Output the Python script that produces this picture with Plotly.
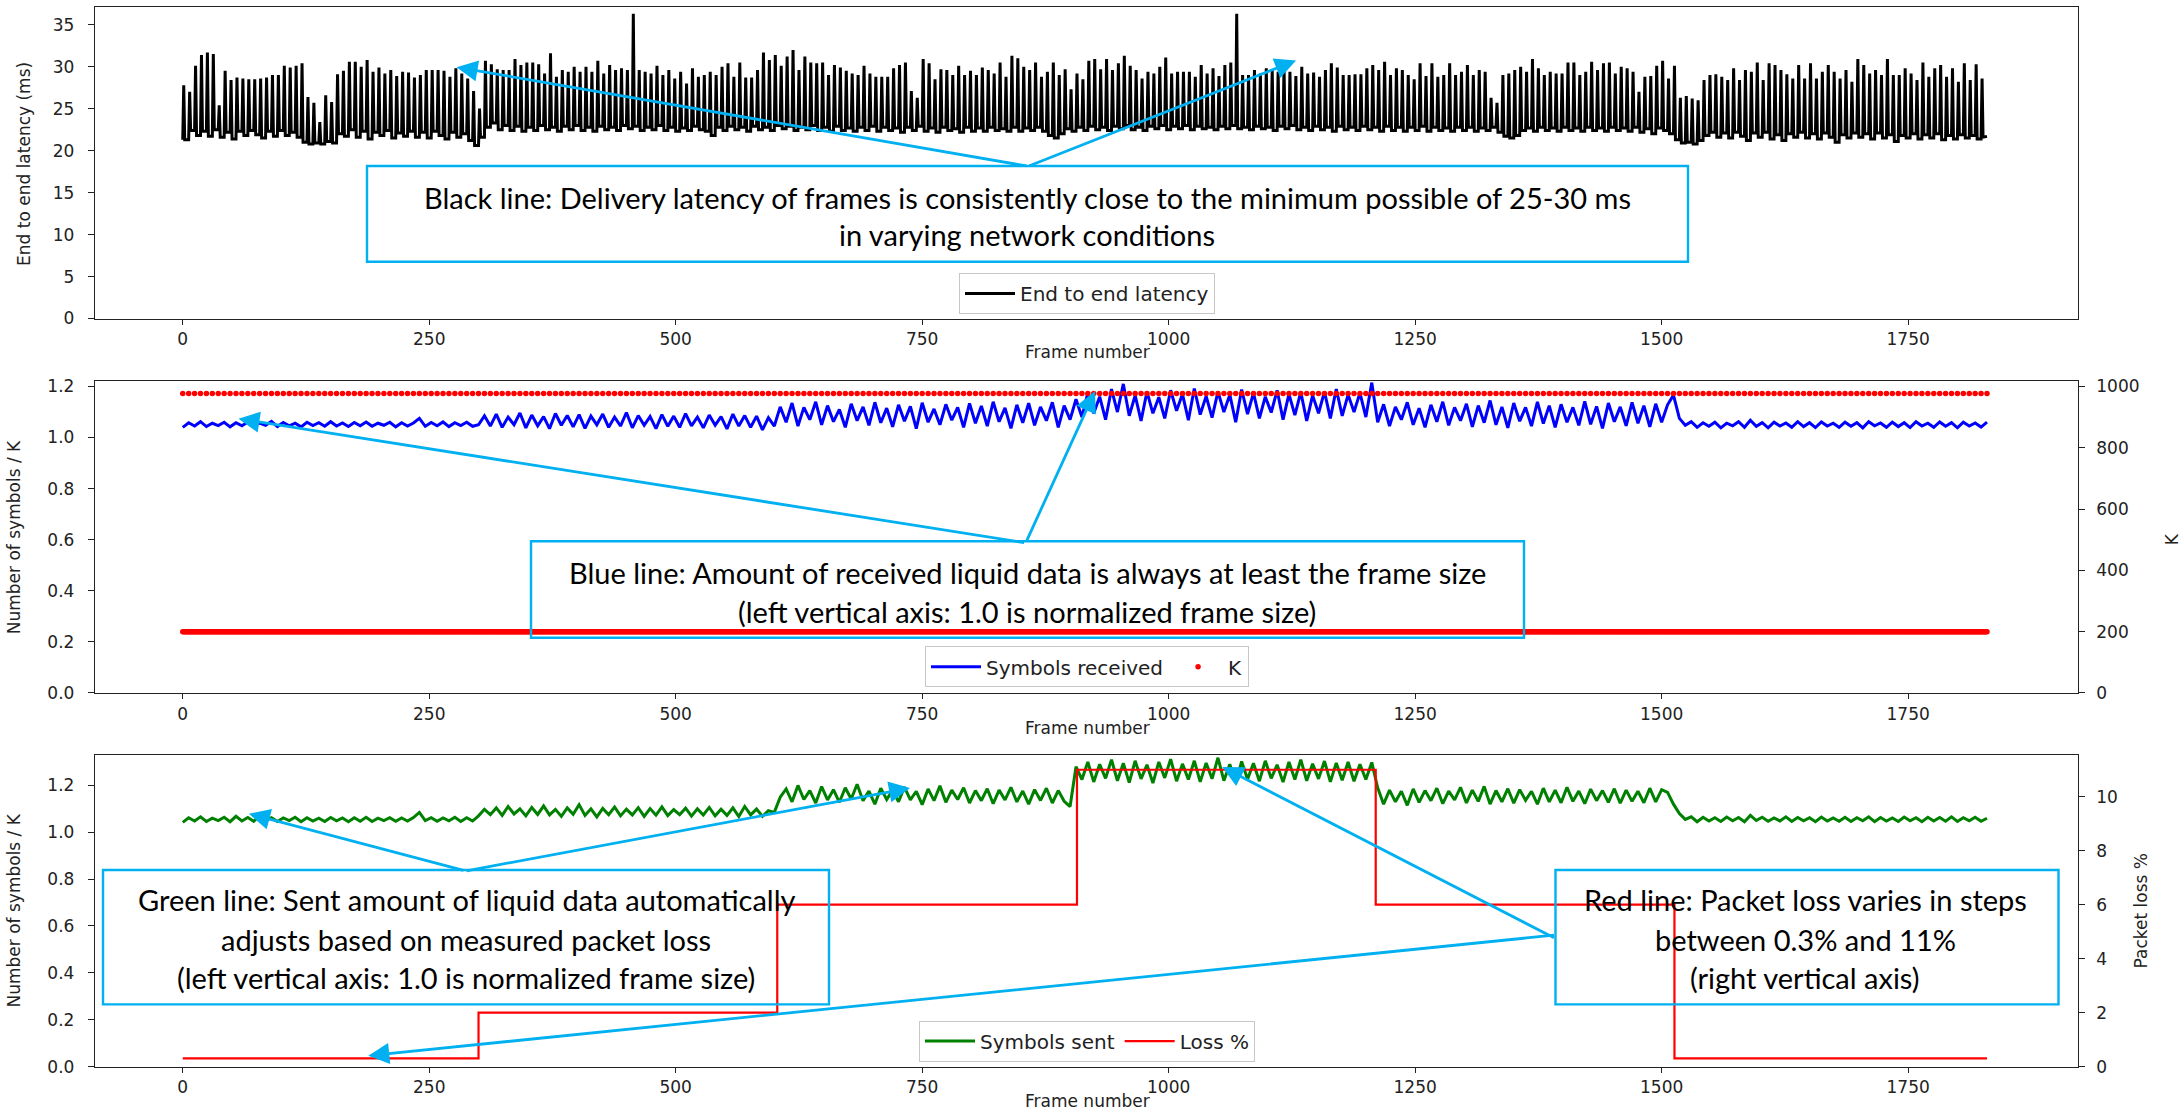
import plotly.graph_objects as go

W, H = 2182, 1120


def px(x):
    return x / W


def py(y):
    return (H - y) / H


# ---------------- data ----------------
FRAME_TICKS = [0, 250, 500, 750, 1000, 1250, 1500, 1750]
SAMPLE_STEP = 6          # frames between samples
LAST_FRAME = 1830

# end-to-end latency (ms): spike peak and following trough, one per 6 frames
LAT_PEAKS = [
    27.8, 27.0, 30.1, 31.4, 31.7, 31.5, 25.4, 29.5, 28.4, 28.7,
    28.6, 28.5, 28.5, 28.6, 28.7, 29.0, 29.0, 30.1, 29.9, 30.1,
    30.4, 26.4, 25.7, 23.4, 26.6, 25.8, 29.1, 29.5, 30.6, 30.6,
    30.0, 30.8, 29.4, 29.9, 29.2, 29.6, 28.9, 29.4, 29.3, 28.7,
    29.0, 29.6, 29.6, 29.6, 29.5, 28.8, 29.8, 29.2, 28.6, 27.1,
    25.0, 30.7, 30.3, 29.7, 29.6, 29.6, 30.9, 30.2, 30.5, 30.5,
    30.3, 29.2, 31.6, 28.8, 29.6, 29.4, 30.0, 29.4, 30.0, 29.4,
    30.7, 29.2, 30.2, 29.6, 29.8, 29.6, 36.3, 29.6, 29.4, 29.2,
    30.1, 29.0, 29.6, 28.6, 29.4, 28.0, 29.8, 28.8, 29.0, 29.4,
    29.0, 30.0, 30.4, 28.8, 30.5, 28.7, 28.7, 29.6, 31.7, 30.8,
    31.4, 30.1, 31.2, 32.0, 29.6,
    31.2, 30.5, 30.4, 30.5, 29.0, 30.2, 29.9, 29.5, 29.2, 29.0,
    30.1, 29.2, 28.8, 28.8, 28.8, 29.8, 30.2, 30.5, 27.1, 26.3,
    30.9, 30.4, 28.5, 29.7, 29.6, 29.0, 30.1, 29.0, 29.5, 29.0,
    29.9, 29.6, 29.2, 30.5, 28.8, 31.3, 31.0, 30.0, 29.6, 30.5,
    28.8, 29.4, 30.5, 29.0, 29.7, 27.3, 29.2, 28.5, 30.7, 30.9,
    29.7, 30.9, 29.6, 30.4, 31.3, 30.1, 29.6, 28.6, 29.4, 29.2,
    30.0, 31.1, 29.2, 29.4, 29.4, 29.4, 28.8, 30.2, 29.2, 29.8,
    28.9, 30.2, 30.5, 36.3, 29.0, 29.0, 29.6, 29.2, 29.8, 29.6,
    29.4, 30.0, 29.4, 28.9, 30.0, 29.2, 29.3, 28.8, 29.6, 30.4,
    29.9, 29.0, 29.0, 29.1, 29.1, 29.8, 30.2, 29.6, 30.6, 29.0,
    29.8, 29.6, 29.0, 28.5, 30.4, 28.9, 30.4, 28.8, 29.0, 30.4,
    29.0, 29.4, 30.2, 29.0, 29.6, 29.4, 26.3, 25.7, 29.0, 29.2,
    29.6, 30.0, 29.4, 30.9, 29.8, 29.0, 29.4, 29.2, 29.2, 30.5,
    30.5, 29.0, 29.4, 30.6, 29.6,
    30.4, 30.5, 29.2, 30.0, 29.8, 29.4, 27.0, 28.8, 28.9, 30.1,
    30.7, 28.6, 30.1, 26.3, 26.5, 26.2, 26.0, 28.4, 29.0, 29.1,
    28.8, 28.4, 29.8, 28.4, 29.6, 29.4, 30.5, 28.4, 30.4, 30.2,
    29.6, 29.1, 28.6, 30.2, 28.6, 30.4, 28.6, 29.4, 30.2, 29.4,
    28.6, 29.6, 28.2, 30.9, 30.2, 29.2, 29.6, 29.0, 30.9, 29.0,
    29.0, 29.8, 29.2, 28.4, 30.5, 28.8, 29.8, 30.2, 28.8, 29.8,
    28.2, 30.4, 28.4, 30.3, 28.6,
]
LAT_LOWS = [
    21.3, 22.4, 21.8, 22.3, 21.7, 22.5, 21.6, 22.2, 21.4, 22.3,
    21.8, 22.4, 21.9, 21.5, 22.3, 21.7, 22.4, 21.8, 22.2, 21.6,
    21.0, 20.8, 20.9, 20.8, 21.1, 20.9, 22.0, 21.7, 22.5, 21.6,
    22.3, 21.4, 22.2, 21.8, 22.4, 21.5, 22.1, 21.7, 22.3, 21.6,
    22.2, 21.5, 22.3, 21.8, 21.4, 22.2, 21.6, 22.0, 21.2, 20.6,
    21.6, 22.8, 23.3, 22.5, 23.0, 22.4, 22.9, 22.3, 22.8, 22.4,
    23.0, 22.5, 22.8, 22.3, 22.9, 22.5, 23.0, 22.4, 22.8, 22.3,
    22.9, 22.5, 22.8, 22.4, 23.0, 22.6, 22.9, 22.4, 22.8, 22.5,
    23.0, 22.4, 22.8, 22.3, 22.7, 22.4, 22.9, 22.5, 22.3, 21.8,
    22.8, 22.4, 22.9, 22.5, 22.8, 22.3, 22.9, 22.5, 22.8, 22.4,
    23.0, 22.6, 22.9, 22.4, 22.8,
    22.5, 23.0, 22.4, 22.8, 22.3, 22.9, 22.4, 22.7, 22.3, 22.8,
    22.4, 22.9, 22.3, 22.8, 22.4, 22.7, 22.2, 22.8, 22.4, 22.9,
    22.3, 22.7, 22.2, 22.8, 22.4, 22.6, 22.2, 22.8, 22.3, 22.7,
    22.3, 22.8, 22.4, 22.6, 22.3, 22.8, 22.3, 22.7, 22.4, 22.8,
    22.3, 21.8, 21.5, 22.0, 22.6, 22.3, 22.8, 22.4, 22.9, 22.5,
    22.8, 22.4, 22.9, 22.6, 23.0, 22.5, 22.8, 22.4, 22.9, 22.6,
    23.0, 22.5, 22.9, 22.6, 23.0, 22.5, 22.9, 22.6, 22.8, 22.5,
    22.9, 22.6, 23.0, 22.6, 22.8, 22.5, 22.9, 22.6, 22.8, 22.4,
    22.9, 22.6, 23.0, 22.5, 22.8, 22.4, 22.9, 22.5, 22.8, 22.3,
    22.9, 22.5, 22.8, 22.4, 22.9, 22.5, 22.8, 22.3, 22.9, 22.4,
    22.8, 22.3, 22.8, 22.4, 22.9, 22.3, 22.8, 22.4, 22.7, 22.3,
    22.8, 22.4, 22.8, 22.3, 22.7, 22.4, 22.8, 22.2, 21.7, 21.5,
    21.8, 22.4, 22.7, 22.3, 22.8, 22.4, 22.7, 22.3, 22.8, 22.4,
    22.7, 22.3, 22.8, 22.4, 22.7,
    22.3, 22.8, 22.4, 22.7, 22.3, 22.8, 22.2, 22.6, 22.0, 22.7,
    22.4, 22.0, 21.3, 20.9, 21.0, 20.8, 21.2, 21.8, 22.2, 21.6,
    22.1, 21.5, 22.2, 21.7, 21.2, 22.1, 21.6, 22.2, 21.4, 21.9,
    21.2, 22.0, 21.6, 22.2, 21.5, 22.0, 21.4, 22.1, 21.6, 21.0,
    21.9, 21.5, 22.1, 21.6, 22.0, 21.4, 22.1, 21.5, 21.9, 21.1,
    21.8, 21.5, 22.0, 21.4, 21.9, 21.5, 22.0, 21.3, 21.8, 21.4,
    21.9, 21.5, 21.8, 21.4, 21.6,
]
LAT_END = 21.7

# symbols received / K, one sample per 6 frames
RECV = [
    1.040, 1.058, 1.045, 1.062, 1.043, 1.056, 1.047, 1.060, 1.042, 1.058,
    1.046, 1.061, 1.044, 1.057, 1.048, 1.063, 1.043, 1.059, 1.046, 1.056,
    1.042, 1.060, 1.047, 1.058, 1.044, 1.062, 1.045, 1.057, 1.043, 1.059,
    1.046, 1.061, 1.044, 1.056, 1.048, 1.060, 1.042, 1.058, 1.045, 1.057,
    1.075, 1.044, 1.059, 1.046, 1.061, 1.043, 1.058, 1.047, 1.060, 1.044,
    1.050, 1.085, 1.045, 1.092, 1.040, 1.080, 1.050, 1.096, 1.038, 1.088,
    1.046, 1.082, 1.035, 1.094, 1.048, 1.086, 1.042, 1.090, 1.036, 1.084,
    1.050, 1.092, 1.040, 1.080, 1.045, 1.098, 1.038, 1.086, 1.048, 1.082,
    1.035, 1.090, 1.044, 1.084, 1.040, 1.094, 1.046, 1.080, 1.038, 1.088,
    1.048, 1.082, 1.034, 1.092, 1.045, 1.086, 1.040, 1.084, 1.030, 1.078,
    1.045,
    1.120, 1.060, 1.135, 1.045, 1.118, 1.070, 1.140, 1.050, 1.125, 1.062,
    1.110, 1.040, 1.132, 1.066, 1.120, 1.048, 1.138, 1.058, 1.115, 1.042,
    1.128, 1.064, 1.122, 1.035, 1.136, 1.060, 1.112, 1.050, 1.130, 1.068,
    1.118, 1.040, 1.134, 1.056, 1.124, 1.045, 1.140, 1.062, 1.116, 1.036,
    1.128, 1.058, 1.135, 1.048, 1.120, 1.066, 1.138, 1.040, 1.125, 1.070,
    1.150,
    1.080, 1.175, 1.095, 1.160, 1.070, 1.190, 1.100, 1.210, 1.085, 1.165,
    1.065, 1.180, 1.095, 1.158, 1.075, 1.185, 1.105, 1.170, 1.068, 1.192,
    1.090, 1.162, 1.078, 1.180, 1.100, 1.168, 1.060, 1.188, 1.092, 1.175,
    1.075, 1.160, 1.098, 1.185, 1.070, 1.170, 1.088, 1.178, 1.065, 1.165,
    1.095, 1.180, 1.075, 1.190, 1.085, 1.168, 1.100, 1.175, 1.080, 1.215,
    1.060, 1.130, 1.045, 1.120, 1.070, 1.138, 1.050, 1.115, 1.040, 1.128,
    1.062, 1.140, 1.048, 1.118, 1.066, 1.132, 1.042, 1.125, 1.058, 1.145,
    1.050, 1.120, 1.038, 1.135, 1.064, 1.118, 1.045, 1.140, 1.055, 1.125,
    1.040, 1.130, 1.060, 1.118, 1.048, 1.142, 1.052, 1.122, 1.036, 1.135,
    1.062, 1.120, 1.046, 1.138, 1.056, 1.125, 1.042, 1.132, 1.060, 1.128,
    1.166,
    1.075, 1.048, 1.062, 1.040, 1.058, 1.044, 1.060, 1.038, 1.056, 1.046,
    1.062, 1.040, 1.068, 1.044, 1.058, 1.038, 1.060, 1.045, 1.057, 1.040,
    1.062, 1.043, 1.058, 1.039, 1.061, 1.045, 1.056, 1.040, 1.060, 1.044,
    1.058, 1.038, 1.062, 1.046, 1.057, 1.040, 1.060, 1.043, 1.058, 1.039,
    1.062, 1.045, 1.056, 1.040, 1.061, 1.044, 1.058, 1.038, 1.060, 1.045,
    1.057, 1.041, 1.060,
]

# symbols sent / K, one sample per 6 frames
SENT = [
    1.042, 1.062, 1.048, 1.066, 1.046, 1.060, 1.050, 1.064, 1.045, 1.068,
    1.048, 1.063, 1.047, 1.070, 1.049, 1.062, 1.046, 1.061, 1.050, 1.064,
    1.045, 1.062, 1.048, 1.060, 1.046, 1.063, 1.049, 1.061, 1.045, 1.062,
    1.047, 1.064, 1.046, 1.060, 1.050, 1.062, 1.047, 1.061, 1.048, 1.063,
    1.085, 1.050, 1.062, 1.047, 1.061, 1.049, 1.064, 1.046, 1.062, 1.048,
    1.070, 1.098, 1.075, 1.104, 1.072, 1.110, 1.078, 1.100, 1.070, 1.106,
    1.076, 1.112, 1.074, 1.098, 1.068, 1.104, 1.077, 1.118, 1.072, 1.100,
    1.066, 1.102, 1.075, 1.108, 1.070, 1.099, 1.074, 1.105, 1.068, 1.101,
    1.073, 1.108, 1.071, 1.097, 1.075, 1.103, 1.069, 1.100, 1.074, 1.106,
    1.070, 1.098, 1.072, 1.104, 1.067, 1.110, 1.074, 1.099, 1.068, 1.092,
    1.085,
    1.150, 1.185, 1.130, 1.200, 1.140, 1.178, 1.125, 1.195, 1.138, 1.182,
    1.128, 1.190, 1.142, 1.205, 1.135, 1.176, 1.120, 1.188, 1.140, 1.180,
    1.130, 1.193, 1.138, 1.175, 1.118, 1.185, 1.135, 1.198, 1.128, 1.180,
    1.140, 1.190, 1.125, 1.178, 1.135, 1.186, 1.122, 1.180, 1.138, 1.192,
    1.130, 1.176, 1.120, 1.182, 1.136, 1.188, 1.125, 1.178, 1.132, 1.110,
    1.280,
    1.225, 1.300, 1.215, 1.290, 1.230, 1.310, 1.220, 1.295, 1.212, 1.305,
    1.228, 1.288, 1.210, 1.300, 1.232, 1.312, 1.218, 1.292, 1.225, 1.305,
    1.215, 1.296, 1.228, 1.318, 1.220, 1.290, 1.212, 1.302, 1.226, 1.295,
    1.218, 1.305, 1.230, 1.288, 1.214, 1.300, 1.225, 1.310, 1.220, 1.292,
    1.228, 1.304, 1.215, 1.296, 1.222, 1.300, 1.218, 1.290, 1.225, 1.298,
    1.190, 1.120, 1.180, 1.130, 1.175, 1.115, 1.185, 1.128, 1.178, 1.135,
    1.188, 1.122, 1.176, 1.138, 1.192, 1.125, 1.180, 1.132, 1.196, 1.120,
    1.178, 1.130, 1.186, 1.124, 1.182, 1.136, 1.175, 1.120, 1.188, 1.130,
    1.180, 1.126, 1.192, 1.132, 1.176, 1.122, 1.184, 1.135, 1.178, 1.128,
    1.186, 1.124, 1.180, 1.132, 1.175, 1.126, 1.188, 1.130, 1.182, 1.170,
    1.120,
    1.080, 1.055, 1.066, 1.045, 1.064, 1.048, 1.062, 1.046, 1.065, 1.049,
    1.063, 1.045, 1.072, 1.050, 1.064, 1.047, 1.061, 1.048, 1.066, 1.046,
    1.063, 1.049, 1.062, 1.045, 1.065, 1.048, 1.061, 1.047, 1.064, 1.046,
    1.062, 1.049, 1.066, 1.045, 1.063, 1.048, 1.061, 1.046, 1.065, 1.049,
    1.062, 1.045, 1.064, 1.048, 1.063, 1.047, 1.066, 1.046, 1.062, 1.049,
    1.064, 1.047, 1.060,
]

# packet loss (%) steps
LOSS_CHANGE_FRAMES = [0, 300, 603, 907, 1210, 1513]
LOSS_LEVELS = [0.3, 2.0, 6.0, 11.0, 6.0, 0.3]

# K (right axis of middle panel)
K_UPPER = 977
K_LOWER = 200
K_UPPER_STEP = 6

# ---------------- derived series ----------------
lat_x, lat_y = [], []
prev = LAT_LOWS[0]
for i, (pk, lo) in enumerate(zip(LAT_PEAKS, LAT_LOWS)):
    f = i * SAMPLE_STEP
    lat_x += [f, f + 1, f + 2]
    lat_y += [prev, pk, lo]
    prev = lo
lat_x.append(LAST_FRAME)
lat_y.append(LAT_END)

sample_frames = [i * SAMPLE_STEP for i in range(len(SENT))]
recv_frames = [i * SAMPLE_STEP for i in range(len(RECV))]
loss_x = LOSS_CHANGE_FRAMES + [LAST_FRAME]
loss_y = LOSS_LEVELS + [LOSS_LEVELS[-1]]
k_up_x = list(range(0, LAST_FRAME + 1, K_UPPER_STEP))
k_lo_x = list(range(0, LAST_FRAME + 1))

# ---------------- figure ----------------
fig = go.Figure()

fig.add_trace(go.Scatter(x=lat_x, y=lat_y, mode="lines", name="End to end latency",
                         line=dict(color="black", width=3.0), xaxis="x", yaxis="y",
                         legend="legend"))

fig.add_trace(go.Scatter(x=recv_frames, y=RECV, mode="lines", name="Symbols received",
                         line=dict(color="#0000ff", width=3.0), xaxis="x2", yaxis="y2",
                         legend="legend2"))
fig.add_trace(go.Scatter(x=k_up_x, y=[K_UPPER] * len(k_up_x), mode="markers", name="K",
                         marker=dict(color="#ff0000", size=5.5), xaxis="x2", yaxis="y3",
                         legend="legend2"))
fig.add_trace(go.Scatter(x=k_lo_x, y=[K_LOWER] * len(k_lo_x), mode="markers", name="K",
                         marker=dict(color="#ff0000", size=5.5), xaxis="x2", yaxis="y3",
                         showlegend=False))

fig.add_trace(go.Scatter(x=sample_frames, y=SENT, mode="lines", name="Symbols sent",
                         line=dict(color="#008000", width=3.0), xaxis="x3", yaxis="y4",
                         legend="legend3"))
fig.add_trace(go.Scatter(x=loss_x, y=loss_y, mode="lines", name="Loss %",
                         line=dict(color="#ff0000", width=2.2, shape="hv"), xaxis="x3", yaxis="y5",
                         legend="legend3"))

TICK_FONT = dict(family="DejaVu Sans", size=17, color="#222222")
XDOM = [px(95), px(2077.7)]
XRANGE = [-89, 1922]


def xax(anchor):
    return dict(domain=XDOM, range=XRANGE, anchor=anchor, tickmode="array",
                tickvals=FRAME_TICKS, ticks="outside", ticklen=5, tickwidth=1.3,
                tickcolor="#222222", showline=True, linecolor="#222222", linewidth=1.4,
                mirror=True, showgrid=False, zeroline=False, tickfont=TICK_FONT)


def yax(dom, rng, dtick, anchor, fmt=None, mirror=False):
    d = dict(domain=dom, range=rng, dtick=dtick, tick0=0, anchor=anchor, ticks="outside",
             ticklen=6, tickwidth=1.3, tickcolor="#222222", showline=True,
             linecolor="#222222", linewidth=1.4, mirror=mirror, showgrid=False,
             zeroline=False, tickfont=TICK_FONT, ticklabelstandoff=10)
    if fmt:
        d["tickformat"] = fmt
    return d


def yright(over, anchor, rng, dtick):
    return dict(overlaying=over, side="right", anchor=anchor, range=rng, dtick=dtick, tick0=0,
                ticks="outside", ticklen=6, tickwidth=1.3, tickcolor="#222222",
                showline=True, linecolor="#222222", linewidth=1.4, showgrid=False,
                zeroline=False, tickfont=TICK_FONT, ticklabelstandoff=8)


dom_top = [py(318.5), py(3.3)]
dom_mid = [py(697.7), py(381.5)]
dom_bot = [py(1076), py(760.7)]

LEG = dict(orientation="h", xanchor="center", yanchor="bottom", bgcolor="white",
           bordercolor="#c8c8c8", borderwidth=1, itemwidth=50,
           font=dict(family="DejaVu Sans", size=20, color="#222222"))

fig.update_layout(
    width=W, height=H, margin=dict(l=0, r=0, t=0, b=0),
    paper_bgcolor="white", plot_bgcolor="white",
    xaxis=xax("y"),
    yaxis=yax(dom_top, [0, 37.08], 5, "x", mirror=True),
    xaxis2=xax("y2"),
    yaxis2=yax(dom_mid, [0, 1.2224], 0.2, "x2", fmt=".1f"),
    yaxis3=yright("y2", "x2", [0, 1018.7], 200),
    xaxis3=xax("y4"),
    yaxis4=yax(dom_bot, [0, 1.329], 0.2, "x3", fmt=".1f"),
    yaxis5=yright("y4", "x3", [0, 11.54], 2),
    legend=dict(LEG, x=px(1087), y=py(314)),
    legend2=dict(LEG, x=px(1087), y=py(692)),
    legend3=dict(LEG, x=px(1087), y=py(1071)),
)

CYAN = "#00b0f0"
TXT_FONT = dict(family="Lato", size=29, color="black")
AX_FONT = dict(family="DejaVu Sans", size=17, color="#222222")

# annotation boxes (no fill)
BOXES = [(367, 164, 1688, 261), (531, 544, 1524, 641.7),
         (103, 877, 829, 1013), (1555.5, 877, 2058.5, 1013)]
shapes = []
for x0, y0, x1, y1 in BOXES:
    shapes.append(dict(type="rect", xref="paper", yref="paper", x0=px(x0), x1=px(x1),
                       y0=py(y1), y1=py(y0), line=dict(color=CYAN, width=2.4),
                       fillcolor="rgba(0,0,0,0)", layer="above"))
fig.update_layout(shapes=shapes)

annotations = []
TEXT_LINES = [
    ("Black line: Delivery latency of frames is consistently close to the minimum possible of 25-30 ms", 1027, 196),
    ("in varying network conditions", 1027, 233),
    ("Blue line: Amount of received liquid data is always at least the frame size", 1027, 576),
    ("(left vertical axis: 1.0 is normalized frame size)", 1027, 615),
    ("Green line: Sent amount of liquid data automatically", 466, 907),
    ("adjusts based on measured packet loss", 466, 947),
    ("(left vertical axis: 1.0 is normalized frame size)", 466, 986),
    ("Red line: Packet loss varies in steps", 1805, 907),
    ("between 0.3% and 11%", 1805, 947),
    ("(right vertical axis)", 1805, 986),
]
for t, x, y in TEXT_LINES:
    annotations.append(dict(text=t, x=px(x), y=py(y), xref="paper", yref="paper",
                            xanchor="center", yanchor="middle", showarrow=False, font=TXT_FONT))

ARROWS = [
    ((456.6, 64), (1028, 163)),
    ((1296, 57.3), (1028, 163)),
    ((238.5, 420), (1025.6, 544)),
    ((1095, 392), (1025.6, 544)),
    ((249, 820), (465, 877)),
    ((910, 794), (465, 877)),
    ((1222.3, 772.7), (1555.5, 944.3)),
    ((368.3, 1065), (1555.5, 944.3)),
]
for (hx, hy), (tx, ty) in ARROWS:
    annotations.append(dict(text="", x=px(hx), y=py(hy), xref="paper", yref="paper",
                            ax=tx - hx, ay=ty - hy, axref="pixel", ayref="pixel",
                            showarrow=True, arrowhead=2, arrowsize=1.5, arrowwidth=2.8,
                            arrowcolor=CYAN, standoff=0, startstandoff=0))

# axis titles
AXIS_TITLES = [
    ("Frame number", 1087, 352, 0),
    ("Frame number", 1087, 733, 0),
    ("Frame number", 1087, 1111, 0),
    ("End to end latency (ms)", 24, 162, -90),
    ("Number of symbols / K", 14, 540, -90),
    ("Number of symbols / K", 14, 918, -90),
    ("K", 2172, 542, -90),
    ("Packet loss %", 2141, 919, -90),
]
for t, x, y, ang in AXIS_TITLES:
    annotations.append(dict(text=t, x=px(x), y=py(y), xref="paper", yref="paper",
                            xanchor="center", yanchor="middle", showarrow=False,
                            textangle=ang, font=AX_FONT))

fig.update_layout(annotations=annotations)

fig.write_html("out.html")
